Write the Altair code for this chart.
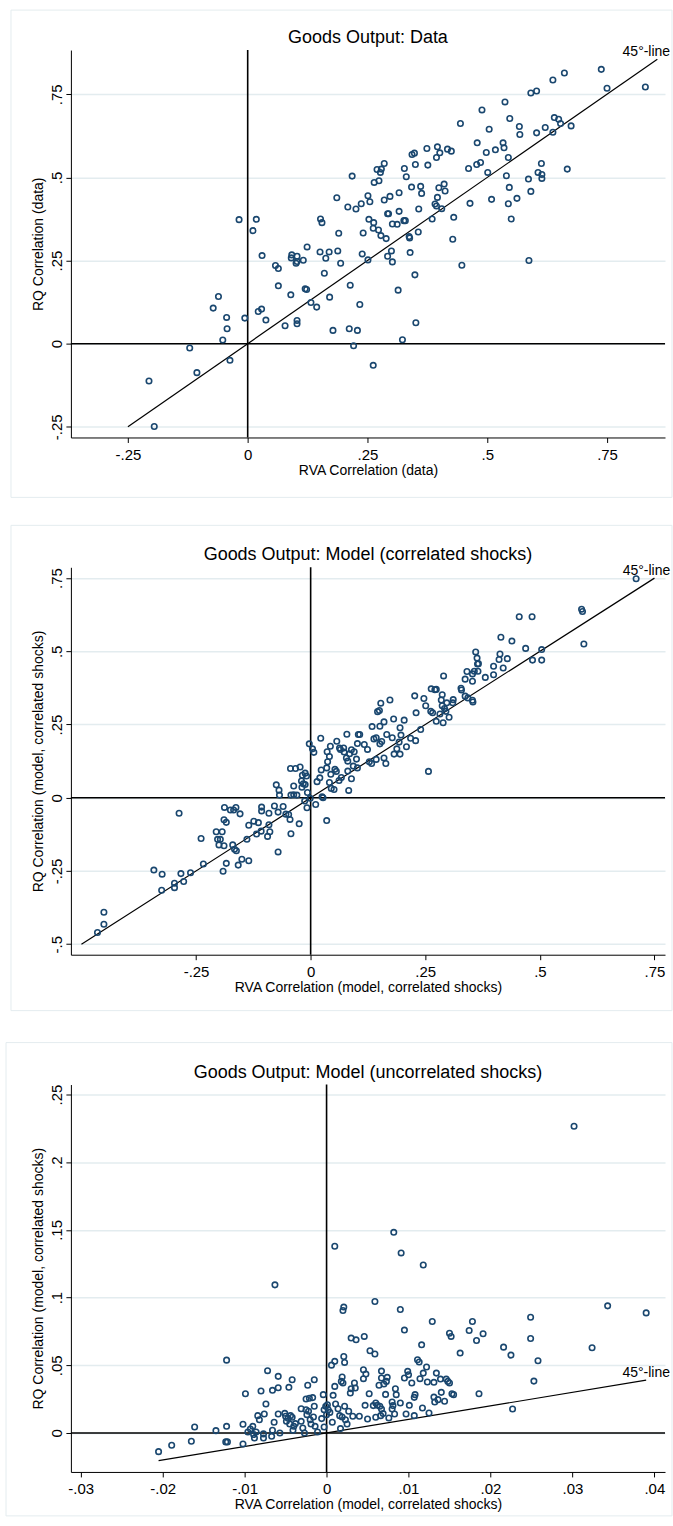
import altair as alt
import pandas as pd

# ---------------- Panel 1: Data ----------------
p1_x = [-0.206, -0.195, -0.121, -0.106, -0.061, -0.072, -0.044, -0.043, -0.052, -0.037,
        -0.006, -0.018, 0.018, 0.011, 0.030, 0.022, 0.029, 0.038, 0.058, 0.064,
        0.064, 0.078, 0.090, 0.092, 0.091, 0.103, 0.101, 0.103, 0.116, 0.103,
        0.103, 0.124, 0.120, 0.123, 0.132, 0.144, 0.152, 0.155, 0.151, 0.163,
        0.170, 0.160, 0.171, 0.178, 0.186, 0.190, 0.188, 0.194, 0.209, 0.214,
        0.212, 0.218, 0.221, 0.226, 0.229, 0.234, 0.237, 0.241, 0.239, 0.251,
        0.253, 0.255, 0.251, 0.262, 0.263, 0.264, 0.262, 0.270, 0.274, 0.273,
        0.277, 0.279, 0.278, 0.285, 0.285, 0.289, 0.292, 0.294, 0.292, 0.297,
        0.300, 0.302, 0.302, 0.312, 0.314, 0.316, 0.316, 0.323, 0.327, 0.326,
        0.329, 0.331, 0.337, 0.338, 0.339, 0.342, 0.343, 0.348, 0.350, 0.349,
        0.351, 0.356, 0.357, 0.361, 0.363, 0.374, 0.376, 0.385, 0.391, 0.394,
        0.396, 0.394, 0.396, 0.399, 0.401, 0.405, 0.410, 0.412, 0.417, 0.425,
        0.428, 0.430, 0.444, 0.447, 0.461, 0.464, 0.478, 0.479, 0.486, 0.489,
        0.498, 0.501, 0.504, 0.509, 0.517, 0.533, 0.535, 0.537, 0.540, 0.544,
        0.546, 0.544, 0.547, 0.550, 0.562, 0.567, 0.568, 0.586, 0.587, 0.591,
        0.591, 0.603, 0.603, 0.606, 0.613, 0.614, 0.614, 0.621, 0.637, 0.637,
        0.640, 0.649, 0.653, 0.661, 0.667, 0.675, 0.738, 0.750, 0.830]
p1_y = [-0.112, -0.249, -0.013, -0.087, 0.142, 0.107, 0.079, 0.045, 0.011, -0.050,
        0.077, 0.373, 0.374, 0.340, 0.265, 0.097, 0.104, 0.071, 0.235, 0.226,
        0.174, 0.054, 0.147, 0.267, 0.258, 0.263, 0.242, 0.247, 0.251, 0.070,
        0.060, 0.291, 0.165, 0.163, 0.124, 0.110, 0.375, 0.364, 0.276, 0.257,
        0.276, 0.212, 0.140, 0.040, 0.439, 0.332, 0.279, 0.242, 0.411, 0.176,
        0.045, 0.504, -0.006, 0.405, 0.040, 0.118, 0.421, 0.333, 0.270, 0.445,
        0.374, 0.427, 0.252, -0.065, 0.364, 0.485, 0.347, 0.524, 0.490, 0.342,
        0.515, 0.525, 0.325, 0.542, 0.432, 0.316, 0.391, 0.391, 0.263, 0.443,
        0.279, 0.360, 0.246, 0.359, 0.161, 0.398, 0.454, 0.012, 0.527, 0.370,
        0.370, 0.502, 0.322, 0.318, 0.274, 0.471, 0.569, 0.573, 0.539, 0.207,
        0.063, 0.336, 0.405, 0.473, 0.452, 0.587, 0.537, 0.375, 0.420, 0.414,
        0.592, 0.560, 0.440, 0.469, 0.574, 0.406, 0.480, 0.459, 0.585, 0.579,
        0.314, 0.380, 0.662, 0.236, 0.527, 0.422, 0.539, 0.604, 0.545, 0.703,
        0.575, 0.515, 0.645, 0.434, 0.583, 0.604, 0.589, 0.727, 0.505, 0.560,
        0.470, 0.421, 0.677, 0.375, 0.437, 0.653, 0.629, 0.495, 0.250, 0.754,
        0.458, 0.760, 0.634, 0.515, 0.542, 0.509, 0.497, 0.650, 0.793, 0.636,
        0.680, 0.675, 0.662, 0.814, 0.525, 0.655, 0.825, 0.768, 0.772]

# ---------------- Panel 2: Model (correlated shocks) ----------------
p2_x = [-0.465, -0.451, -0.451, -0.342, -0.324, -0.325, -0.297, -0.297, -0.283, -0.277,
        -0.262, -0.287, -0.239, -0.234, -0.206, -0.203, -0.200, -0.193, -0.197, -0.188,
        -0.189, -0.184, -0.189, -0.191, -0.184, -0.175, -0.168, -0.163, -0.170, -0.166,
        -0.162, -0.154, -0.158, -0.150, -0.139, -0.135, -0.135, -0.124, -0.118, -0.114,
        -0.108, -0.107, -0.107, -0.094, -0.091, -0.091, -0.089, -0.079, -0.075, -0.071,
        -0.071, -0.069, -0.068, -0.060, -0.054, -0.048, -0.045, -0.043, -0.044, -0.033,
        -0.037, -0.043, -0.037, -0.030, -0.025, -0.023, -0.020, -0.019, -0.018, -0.016,
        -0.012, -0.012, -0.009, -0.013, -0.008, -0.007, -0.003, 0.004, 0.007, -0.001,
        0.011, 0.014, 0.020, 0.022, 0.023, 0.025, 0.027, 0.035, 0.035, 0.037,
        0.036, 0.041, 0.043, 0.041, 0.044, 0.045, 0.051, 0.053, 0.056, 0.057,
        0.062, 0.063, 0.065, 0.067, 0.072, 0.073, 0.078, 0.079, 0.081, 0.081,
        0.083, 0.085, 0.089, 0.089, 0.093, 0.095, 0.100, 0.102, 0.104, 0.107,
        0.102, 0.117, 0.124, 0.128, 0.133, 0.134, 0.138, 0.143, 0.143, 0.146,
        0.150, 0.151, 0.151, 0.153, 0.155, 0.160, 0.160, 0.164, 0.166, 0.173,
        0.178, 0.181, 0.182, 0.188, 0.193, 0.195, 0.195, 0.197, 0.204, 0.209,
        0.218, 0.227, 0.229, 0.230, 0.240, 0.247, 0.251, 0.257, 0.262, 0.263,
        0.266, 0.271, 0.274, 0.274, 0.282, 0.285, 0.287, 0.287, 0.289, 0.290,
        0.292, 0.295, 0.297, 0.302, 0.310, 0.311, 0.328, 0.329, 0.337, 0.337,
        0.341, 0.343, 0.353, 0.354, 0.353, 0.353, 0.357, 0.360, 0.363, 0.364,
        0.365, 0.366, 0.381, 0.399, 0.399, 0.411, 0.413, 0.415, 0.420, 0.429,
        0.439, 0.455, 0.469, 0.483, 0.484, 0.504, 0.504, 0.591, 0.593, 0.596,
        0.710]
p2_y = [-0.460, -0.432, -0.391, -0.247, -0.261, -0.316, -0.292, -0.307, -0.259, -0.286,
        -0.256, -0.053, -0.139, -0.226, -0.116, -0.142, -0.161, -0.116, -0.142, -0.033,
        -0.075, -0.084, -0.164, -0.251, -0.224, -0.042, -0.042, -0.033, -0.161, -0.176,
        -0.181, -0.055, -0.230, -0.210, -0.142, -0.094, -0.215, -0.080, -0.124, -0.085,
        -0.114, -0.032, -0.045, -0.132, -0.053, -0.092, -0.116, -0.028, 0.044, -0.185,
        -0.049, 0.026, 0.009, -0.030, -0.056, -0.057, -0.074, -0.123, 0.100, 0.100,
        0.040, 0.009, 0.010, 0.009, -0.089, 0.105, 0.057, 0.036, 0.077, 0.048,
        0.084, 0.045, 0.074, -0.011, -0.034, 0.018, 0.184, 0.167, 0.155, -0.002,
        -0.023, 0.055, 0.068, 0.203, 0.095, 0.003, 0.000, -0.078, 0.102, 0.123,
        0.157, 0.141, 0.176, 0.052, 0.080, 0.032, 0.028, 0.097, 0.090, 0.193,
        0.059, 0.170, 0.165, 0.069, 0.170, 0.156, 0.136, 0.217, 0.125, 0.091,
        0.025, 0.150, 0.164, 0.065, 0.108, 0.157, 0.132, 0.102, 0.216, 0.216,
        0.185, 0.182, 0.165, 0.123, 0.117, 0.243, 0.201, 0.205, 0.131, 0.294,
        0.298, 0.244, 0.184, 0.323, 0.192, 0.259, 0.136, 0.117, 0.216, 0.334,
        0.205, 0.269, 0.149, 0.167, 0.190, 0.239, 0.149, 0.214, 0.265, 0.174,
        0.203, 0.348, 0.195, 0.290, 0.233, 0.339, 0.314, 0.090, 0.295, 0.372,
        0.290, 0.369, 0.370, 0.261, 0.286, 0.334, 0.352, 0.314, 0.256, 0.416,
        0.305, 0.295, 0.324, 0.275, 0.324, 0.335, 0.374, 0.368, 0.347, 0.405,
        0.431, 0.341, 0.333, 0.327, 0.398, 0.423, 0.432, 0.498, 0.477, 0.457,
        0.432, 0.458, 0.411, 0.449, 0.420, 0.472, 0.491, 0.548, 0.443, 0.475,
        0.535, 0.618, 0.510, 0.618, 0.470, 0.506, 0.470, 0.644, 0.636, 0.525,
        0.748]

# ---------------- Panel 3: Model (uncorrelated shocks) ----------------
p3_x = [-0.0205, -0.0189, -0.0165, -0.0161, -0.0135, -0.0123, -0.0121, -0.0122, -0.0122, -0.0102,
        -0.0102, -0.0099, -0.0096, -0.0093, -0.0090, -0.0089, -0.0088, -0.0086, -0.0084, -0.0082,
        -0.0080, -0.0077, -0.0077, -0.0076, -0.0074, -0.0072, -0.0067, -0.0066, -0.0064, -0.0066,
        -0.0063, -0.0059, -0.0059, -0.0059, -0.0057, -0.0051, -0.0050, -0.0049, -0.0047, -0.0046,
        -0.0045, -0.0044, -0.0042, -0.0042, -0.0041, -0.0040, -0.0038, -0.0031, -0.0031, -0.0029,
        -0.0027, -0.0025, -0.0025, -0.0024, -0.0023, -0.0022, -0.0021, -0.0020, -0.0019, -0.0017,
        -0.0016, -0.0015, -0.0015, -0.0014, -0.0011, -0.0006, -0.0004, -0.0003, -0.0003, -0.0001,
        0.0000, 0.0001, 0.0002, 0.0004, 0.0006, 0.0007, 0.0008, 0.0010, 0.0010, 0.0010,
        0.0011, 0.0014, 0.0016, 0.0017, 0.0018, 0.0019, 0.0019, 0.0020, 0.0020, 0.0021,
        0.0021, 0.0022, 0.0022, 0.0023, 0.0025, 0.0027, 0.0029, 0.0030, 0.0030, 0.0032,
        0.0034, 0.0035, 0.0036, 0.0040, 0.0045, 0.0045, 0.0046, 0.0047, 0.0048, 0.0050,
        0.0052, 0.0053, 0.0057, 0.0059, 0.0059, 0.0060, 0.0060, 0.0062, 0.0064, 0.0065,
        0.0066, 0.0067, 0.0067, 0.0067, 0.0069, 0.0070, 0.0072, 0.0073, 0.0074, 0.0076,
        0.0080, 0.0080, 0.0081, 0.0082, 0.0083, 0.0084, 0.0085, 0.0090, 0.0090, 0.0091,
        0.0095, 0.0095, 0.0097, 0.0099, 0.0100, 0.0101, 0.0104, 0.0107, 0.0107, 0.0108,
        0.0111, 0.0113, 0.0114, 0.0116, 0.0117, 0.0118, 0.0118, 0.0122, 0.0123, 0.0125,
        0.0129, 0.0131, 0.0131, 0.0132, 0.0134, 0.0136, 0.0139, 0.0140, 0.0144, 0.0146,
        0.0148, 0.0150, 0.0150, 0.0152, 0.0153, 0.0155, 0.0163, 0.0174, 0.0178, 0.0183,
        0.0186, 0.0191, 0.0216, 0.0225, 0.0227, 0.0249, 0.0249, 0.0253, 0.0258, 0.0302,
        0.0324, 0.0343, 0.0390]
p3_y = [-0.0138, -0.0091, -0.0061, 0.0044, 0.0017, -0.0066, -0.0066, 0.0049, 0.0538, -0.0081,
        0.0064, 0.0290, 0.0007, 0.0029, 0.0049, -0.0012, -0.0037, 0.0007, 0.0128, 0.0098,
        0.0310, -0.0007, -0.0037, 0.0140, 0.0214, 0.0460, -0.0025, 0.0020, 0.0079, 0.0315,
        0.1094, 0.0418, 0.0334, 0.0140, 0.0000, 0.0145, 0.0123, 0.0086, 0.0108, 0.0337,
        0.0066, 0.0128, 0.0116, 0.0393, 0.0020, 0.0049, 0.0069, 0.0179, 0.0086, 0.0037,
        0.0000, 0.0251, 0.0172, 0.0135, 0.0352, 0.0160, 0.0256, 0.0098, 0.0066, 0.0261,
        0.0118, 0.0197, 0.0393, 0.0049, 0.0007, 0.0106, 0.0283, 0.0044, 0.0172, 0.0197,
        0.0135, 0.0209, 0.0172, 0.0152, 0.0501, 0.0079, 0.0278, 0.0529, 0.1379, 0.0344,
        0.0214, 0.0179, 0.0128, 0.0032, 0.0381, 0.0413, 0.0118, 0.0369, 0.0905, 0.0930,
        0.0565, 0.0521, 0.0197, 0.0098, 0.0066, 0.0160, 0.0295, 0.0701, 0.0327, 0.0123,
        0.0369, 0.0332, 0.0688, 0.0123, 0.0401, 0.0467, 0.0713, 0.0204, 0.0435, 0.0103,
        0.0290, 0.0607, 0.0202, 0.0583, 0.0971, 0.0116, 0.0221, 0.0204, 0.0352, 0.0197,
        0.0128, 0.0457, 0.0406, 0.0177, 0.0143, 0.0361, 0.0285, 0.0381, 0.0411, 0.0111,
        0.0177, 0.0229, 0.0202, 0.1482, 0.0140, 0.0327, 0.0283, 0.0221, 0.0912, 0.1330,
        0.0760, 0.0406, 0.0140, 0.0455, 0.0430, 0.0204, 0.0369, 0.0263, 0.0128, 0.0283,
        0.0541, 0.0524, 0.0401, 0.0651, 0.0184, 0.1241, 0.0442, 0.0487, 0.0376, 0.0147,
        0.0823, 0.0374, 0.0265, 0.0229, 0.0442, 0.0246, 0.0398, 0.0300, 0.0234, 0.0398,
        0.0381, 0.0369, 0.0737, 0.0713, 0.0290, 0.0283, 0.0590, 0.0757, 0.0823, 0.0683,
        0.0290, 0.0733, 0.0634, 0.0575, 0.0177, 0.0855, 0.0698, 0.0383, 0.0533, 0.2266,
        0.0629, 0.0939, 0.0887]

# 45-degree line end points
p1_line = [-0.25, 0.855]
p2_line = [-0.50, 0.75]
p3_line = [-0.0205, 0.039]

# tick values
p1_xticks = [-0.25, 0, 0.25, 0.5, 0.75]
p1_yticks = [-0.25, 0, 0.25, 0.5, 0.75]
p2_xticks = [-0.25, 0, 0.25, 0.5, 0.75]
p2_yticks = [-0.5, -0.25, 0, 0.25, 0.5, 0.75]
p3_xticks = [-0.03, -0.02, -0.01, 0, 0.01, 0.02, 0.03, 0.04]
p3_yticks = [0, 0.05, 0.1, 0.15, 0.2, 0.25]

titles = ["Goods Output: Data",
          "Goods Output: Model (correlated shocks)",
          "Goods Output: Model (uncorrelated shocks)"]
xtitles = ["RVA Correlation (data)",
           "RVA Correlation (model, correlated shocks)",
           "RVA Correlation (model, correlated shocks)"]
ytitles = ["RQ Correlation (data)",
           "RQ Correlation (model, correlated shocks)",
           "RQ Correlation (model, correlated shocks)"]

FONT = "Liberation Sans"
NAVY = "#1a476f"
W, H = 595, 388
LABEL_EXPR = ("datum.value == 0 ? '0' : (datum.value < 0 ? '-' : '') + "
              "substring(format(abs(datum.value), '.2~f'), 1)")


def panel(xs, ys, line, xdom, ydom, xticks, yticks, title, xtitle, ytitle, box, lab_dx):
    pts = pd.DataFrame({"x": xs, "y": ys})
    ln = pd.DataFrame({"x": line, "y": line})
    lab = pd.DataFrame({"x": [line[1]], "y": [line[1]], "t": ["45°-line"]})

    X = alt.X("x:Q", scale=alt.Scale(domain=xdom, nice=False, zero=False),
              axis=alt.Axis(values=xticks, labelExpr=LABEL_EXPR, title=xtitle,
                            grid=False, labelPadding=5, titlePadding=1))
    Y = alt.Y("y:Q", scale=alt.Scale(domain=ydom, nice=False, zero=False),
              axis=alt.Axis(values=yticks, labelExpr=LABEL_EXPR, title=ytitle,
                            grid=True, labelAngle=-90, labelAlign="center",
                            labelBaseline="bottom", labelPadding=1, titlePadding=4))

    frame = alt.Chart(alt.Data(values=[{"a": 1}])).mark_rect(
        fillOpacity=0, stroke="#e4ecef", strokeWidth=1
    ).encode(x=alt.value(box[0]), x2=alt.value(box[1]),
             y=alt.value(box[2]), y2=alt.value(box[3]))

    head = alt.Chart(alt.Data(values=[{"a": 1}])).mark_text(
        font=FONT, fontSize=18, color="black", align="center", baseline="alphabetic"
    ).encode(x=alt.value(W / 2), y=alt.value(-7), text=alt.value(title))

    hzero = alt.Chart(alt.Data(values=[{"y": 0}])).mark_rule(
        color="black", strokeWidth=1.6).encode(y=Y)
    vzero = alt.Chart(alt.Data(values=[{"x": 0}])).mark_rule(
        color="black", strokeWidth=1.6).encode(x=X)
    diag = alt.Chart(ln).mark_line(color="black", strokeWidth=1.2).encode(x=X, y=Y)
    dots = alt.Chart(pts).mark_point(
        shape="circle", filled=False, color=NAVY, size=30, strokeWidth=1.6, opacity=1
    ).encode(x=X, y=Y)
    txt = alt.Chart(lab).mark_text(
        font=FONT, fontSize=14, color="black", align="center",
        baseline="alphabetic", dx=lab_dx, dy=-3
    ).encode(x=X, y=Y, text="t:N")

    return alt.layer(frame, head, hzero, vzero, diag, dots, txt).properties(
        width=W, height=H)


c1 = panel(p1_x, p1_y, p1_line, [-0.369, 0.871], [-0.282, 0.883],
           p1_xticks, p1_yticks, titles[0], xtitles[0], ytitles[0],
           [-60, 602, -40, 448], -11)
c2 = panel(p2_x, p2_y, p2_line, [-0.523, 0.773], [-0.536, 0.787],
           p2_xticks, p2_yticks, titles[1], xtitles[1], ytitles[1],
           [-60, 602, -42, 444], -8)
c3 = panel(p3_x, p3_y, p3_line, [-0.0312, 0.0413], [-0.0288, 0.2574],
           p3_xticks, p3_yticks, titles[2], xtitles[2], ytitles[2],
           [-65, 602, -42, 432], 0)

chart = alt.vconcat(c1, c2, c3, spacing=130, bounds="flush").configure(
    padding={"left": 5, "top": 8, "right": 0, "bottom": 2},
    background="white",
).configure_view(strokeWidth=0).configure_axis(
    domainColor="black", domainWidth=1, tickColor="black", tickSize=5, tickWidth=1,
    labelFont=FONT, labelFontSize=15, labelColor="black",
    titleFont=FONT, titleFontSize=14, titleFontWeight="normal", titleColor="black",
    gridColor="#e3ecef", gridWidth=1.5,
)

chart.save("out.html", embed_options={"renderer": "svg", "actions": False})
